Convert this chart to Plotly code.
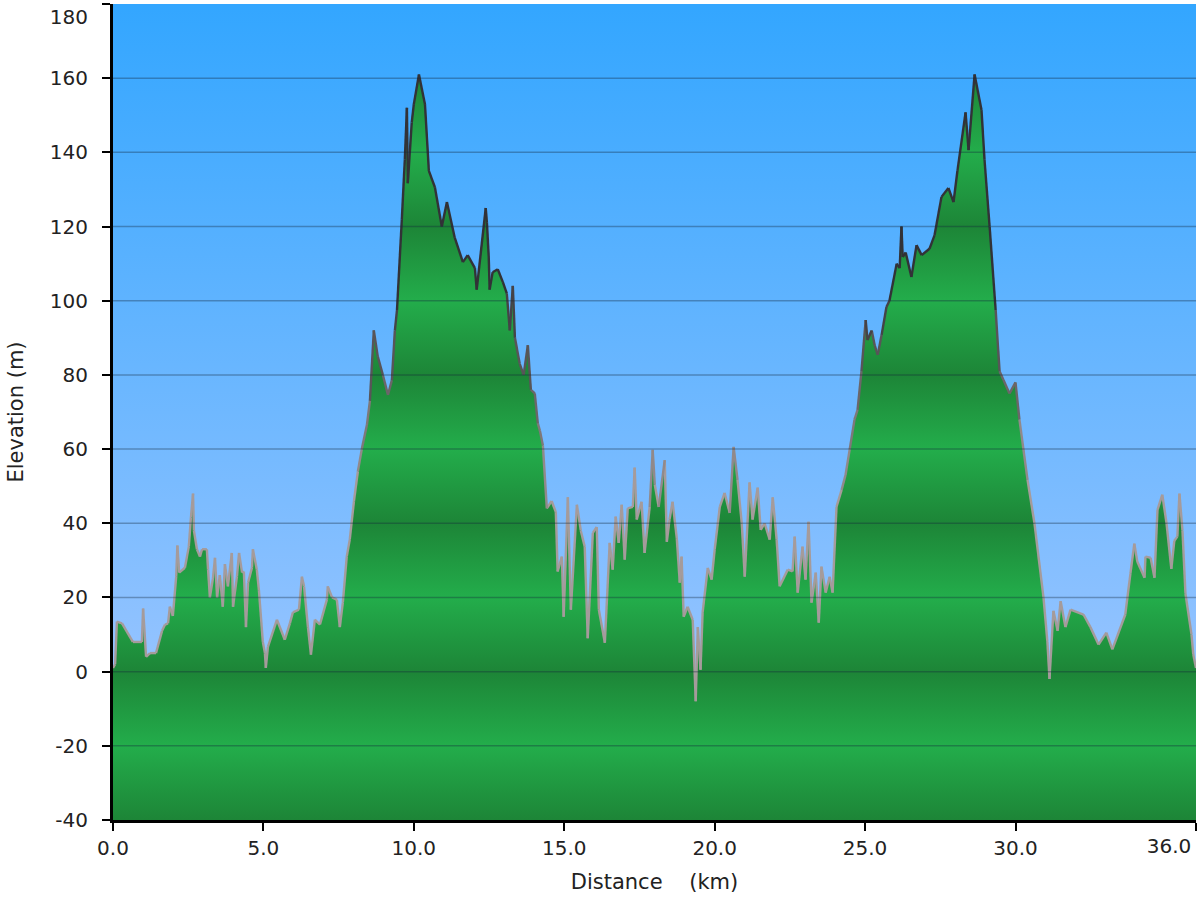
import plotly.graph_objects as go
import numpy as np

# ---- data ----
distance_km = [
    0.00, 0.07, 0.13, 0.30, 0.66, 0.96, 1.00, 1.10, 1.23, 1.43, 1.63, 1.73, 1.83, 1.89, 1.99,
    2.10, 2.14, 2.20, 2.39, 2.52, 2.59, 2.66, 2.69, 2.79, 2.89, 2.96, 3.12, 3.16, 3.22, 3.32,
    3.39, 3.46, 3.55, 3.65, 3.72, 3.82, 3.95, 3.99, 4.12, 4.19, 4.29, 4.35, 4.42, 4.49, 4.62,
    4.65, 4.78, 4.85, 4.98, 5.05, 5.08, 5.15, 5.45, 5.71, 5.88, 5.98, 6.18, 6.28, 6.35, 6.48,
    6.58, 6.71, 6.88, 7.11, 7.14, 7.28, 7.44, 7.54, 7.64, 7.77, 7.87, 8.01, 8.14, 8.27, 8.44,
    8.54, 8.67, 8.80, 8.97, 9.14, 9.27, 9.37, 9.44, 9.60, 9.70, 9.77, 9.80, 9.93, 10.00, 10.17,
    10.37, 10.50, 10.70, 10.93, 11.10, 11.36, 11.63, 11.79, 12.03, 12.09, 12.39, 12.43, 12.49, 12.52, 12.62,
    12.79, 12.96, 13.09, 13.19, 13.29, 13.36, 13.52, 13.65, 13.79, 13.89, 14.02, 14.12, 14.19, 14.29, 14.42,
    14.58, 14.72, 14.78, 14.92, 14.98, 15.12, 15.22, 15.42, 15.55, 15.68, 15.78, 15.95, 16.08, 16.15, 16.35,
    16.51, 16.61, 16.71, 16.81, 16.91, 17.01, 17.11, 17.28, 17.34, 17.41, 17.57, 17.67, 17.84, 17.94, 18.01,
    18.14, 18.34, 18.41, 18.50, 18.60, 18.74, 18.84, 18.90, 18.97, 19.10, 19.27, 19.37, 19.44, 19.53, 19.60,
    19.77, 19.90, 20.00, 20.17, 20.33, 20.50, 20.63, 20.76, 20.90, 21.00, 21.16, 21.26, 21.43, 21.53, 21.66,
    21.83, 21.93, 22.06, 22.16, 22.43, 22.59, 22.66, 22.76, 22.92, 23.02, 23.12, 23.22, 23.36, 23.46, 23.55,
    23.69, 23.82, 23.92, 24.05, 24.22, 24.35, 24.49, 24.65, 24.75, 24.88, 25.02, 25.08, 25.22, 25.32, 25.42,
    25.55, 25.71, 25.81, 26.05, 26.15, 26.21, 26.25, 26.35, 26.54, 26.71, 26.88, 27.14, 27.31, 27.54, 27.77,
    27.94, 28.07, 28.34, 28.44, 28.64, 28.87, 28.97, 29.14, 29.34, 29.47, 29.60, 29.80, 30.00, 30.13, 30.40,
    30.63, 30.93, 31.06, 31.13, 31.26, 31.40, 31.50, 31.66, 31.83, 32.26, 32.49, 32.76, 33.02, 33.22, 33.65,
    33.82, 33.95, 34.05, 34.29, 34.32, 34.49, 34.62, 34.72, 34.88, 35.02, 35.18, 35.28, 35.38, 35.45, 35.55,
    35.65, 35.85, 35.91, 36.00,
]
elevation_m = [
    1, 2, 13.5, 13, 8, 8, 17, 4, 5, 5, 11, 12.7, 13, 17.5, 15,
    25.6, 34, 26.7, 28, 33.7, 41.5, 48, 38, 33, 31, 33, 33, 27.5, 20, 25,
    30.7, 20, 26, 17.5, 29, 23, 32, 17.5, 25.6, 32, 26.7, 27, 12, 24, 28,
    33, 27.5, 22, 8, 5, 1, 6.7, 14, 8.6, 13, 16, 16.7, 25.6, 23, 12,
    4.6, 14, 12.7, 19.4, 23, 20, 19.4, 12, 18.6, 31, 35.6, 46, 54, 60, 66.5,
    73, 92, 85, 80, 74.6, 78.6, 92, 97.5, 121.8, 138, 152, 131.7, 148, 153, 161,
    153, 135, 130.6, 120, 126.6, 117, 110.4, 112.3, 108.8, 103, 125, 121, 111.8, 103, 107.7,
    108.5, 105, 102, 92, 104, 90, 83, 80, 88, 76, 75, 67, 65, 61, 44,
    46, 43, 27, 31, 14.8, 47, 16.7, 45, 38, 33.7, 9, 37.4, 39, 16.7, 7.8,
    34.7, 27.5, 41.8, 34.7, 45, 30.2, 44, 44.4, 55, 41, 45.8, 32, 44.4, 59.8, 50.4,
    44.4, 57, 35, 41, 45.8, 36, 24, 31, 14.8, 17.5, 14, -8, 12, 0.5, 16,
    28, 24.8, 32.9, 44.4, 48.2, 42.8, 60.6, 51.7, 40, 25.6, 51, 41, 49.6, 38.2, 40,
    35.6, 47, 35.6, 23, 27.5, 27, 36.4, 21.3, 33.7, 24.8, 40.4, 18.6, 26.7, 13.2, 28.3,
    21.3, 25.6, 21.3, 44.4, 49, 53, 60, 68, 70.6, 81, 94.8, 89.4, 92, 88, 85.4,
    90.8, 98.3, 100, 110, 108.8, 120, 111.8, 113, 106.4, 115, 112.3, 114, 117.7, 128, 130.4,
    126.6, 135, 150.8, 140.6, 161, 151.4, 138, 120, 97.5, 81, 78.6, 75, 78, 68, 51.7,
    40, 20, 8, -2, 16.4, 11, 19, 12, 16.7, 15.4, 12, 7.3, 10.5, 6, 15.4,
    26.4, 34.5, 29.6, 25.3, 31, 30.7, 25.3, 43.6, 47.7, 40, 27.7, 35.3, 36.4, 48, 38,
    21, 10, 4.6, 1,
]

X_MAX = 36.0
Y_MIN, Y_MAX = -40, 180
x_tick_vals = [0, 5, 10, 15, 20, 25, 30, 36]
x_tick_text = ["0.0", "5.0", "10.0", "15.0", "20.0", "25.0", "30.0", ""]
x_end_tick = [36]
x_end_label = ["36.0"]
y_tick_vals = list(range(Y_MIN, Y_MAX + 1, 20))
y_tick_text = ["-40", "-20", "0", "20", "40", "60", "80", "100", "120", "140", "160", "\u00a0<br>180"]
grid_vals = list(range(Y_MIN + 20, Y_MAX, 20))

GREEN_DARK = "rgb(29,133,55)"
GREEN_LIGHT = "rgb(35,173,75)"
SKY_TOP = "#33a6ff"
SKY_BOTTOM = "#abcaff"
TEXT = "#222222"

x = np.array(distance_km, dtype=float)
y = np.array(elevation_m, dtype=float)

fig = go.Figure()

# sky background gradient
fig.add_trace(go.Scatter(
    x=[0, X_MAX, X_MAX, 0, 0], y=[Y_MIN, Y_MIN, Y_MAX, Y_MAX, Y_MIN],
    mode="none", fill="toself",
    fillgradient=dict(type="vertical", colorscale=[[0, SKY_BOTTOM], [1, SKY_TOP]],
                      start=Y_MIN, stop=Y_MAX),
    hoverinfo="skip", showlegend=False))

# baseline for the terrain fill
fig.add_trace(go.Scatter(x=x, y=np.full_like(x, Y_MIN), mode="lines",
                         line=dict(width=0, color="rgba(0,0,0,0)"),
                         hoverinfo="skip", showlegend=False))

# banded green terrain
stops = []
for lv in range(Y_MIN, Y_MAX + 1, 20):
    frac = (lv - Y_MIN) / (Y_MAX - Y_MIN)
    stops.append([frac, GREEN_DARK if lv % 40 == 0 else GREEN_LIGHT])
fig.add_trace(go.Scatter(
    x=x, y=y, mode="none", fill="tonexty",
    fillgradient=dict(type="vertical", colorscale=stops, start=Y_MIN, stop=Y_MAX),
    hoverinfo="skip", showlegend=False))

# outline, shaded from light grey (low) to dark (high)
low_c = np.array([165, 155, 155])
high_c = np.array([50, 50, 55])
n_buckets = 7
buckets = {b: ([], []) for b in range(n_buckets)}
for i in range(len(x) - 1):
    avg = (y[i] + y[i + 1]) / 2
    t = min(max((avg - 45) / (105 - 45), 0), 1)
    b = int(round(t * (n_buckets - 1)))
    bx, by = buckets[b]
    bx += [x[i], x[i + 1], None]
    by += [y[i], y[i + 1], None]
for b in range(n_buckets):
    t = b / (n_buckets - 1)
    c = low_c + (high_c - low_c) * t
    bx, by = buckets[b]
    if bx:
        fig.add_trace(go.Scatter(x=bx, y=by, mode="lines",
                                 line=dict(color=f"rgb({int(c[0])},{int(c[1])},{int(c[2])})", width=2.4),
                                 hoverinfo="skip", showlegend=False))

# invisible anchor so the overlaid end-label axis is drawn
fig.add_trace(go.Scatter(x=[X_MAX], y=[Y_MIN], xaxis="x2", mode="markers",
                         marker=dict(opacity=0, size=1), hoverinfo="skip", showlegend=False))

shapes = []
for g in grid_vals:
    shapes.append(dict(type="line", xref="paper", x0=0, x1=1, yref="y", y0=g, y1=g,
                       line=dict(color="rgba(20,40,60,0.35)", width=1.5), layer="above"))

tick_font = dict(size=20, color=TEXT, family="DejaVu Sans")

fig.update_layout(
    width=1200, height=900,
    margin=dict(l=113, r=4, t=4, b=80, autoexpand=False),
    paper_bgcolor="white", plot_bgcolor="white",
    showlegend=False,
    shapes=shapes,
    font=dict(family="DejaVu Sans", color=TEXT),
    xaxis=dict(range=[0, X_MAX], tickvals=x_tick_vals, ticktext=x_tick_text,
               showgrid=False, zeroline=False, showline=True, linecolor="black", linewidth=3,
               ticks="outside", ticklen=8, tickwidth=2, tickcolor="black",
               ticklabeloverflow="allow", automargin=False,
               tickfont=tick_font,
               title=dict(text="Distance\u00a0\u00a0\u00a0\u00a0(km)", font=dict(size=21, color=TEXT), standoff=16)),
    xaxis2=dict(overlaying="x", anchor="y", side="bottom", range=[0, X_MAX],
                tickvals=x_end_tick, ticktext=x_end_label,
                showgrid=False, zeroline=False, showline=False,
                ticks="outside", ticklen=8, tickwidth=2, tickcolor="rgba(0,0,0,0)",
                ticklabelshift=-27, ticklabeloverflow="allow", automargin=False,
                tickfont=tick_font),
    yaxis=dict(range=[Y_MIN, Y_MAX], tickvals=y_tick_vals, ticktext=y_tick_text,
               showgrid=False, zeroline=False, showline=True, linecolor="black", linewidth=3,
               ticks="outside", ticklen=8, tickwidth=2, tickcolor="black",
               ticklabeloverflow="allow", automargin=False,
               tickfont=tick_font, ticklabelstandoff=10,
               title=dict(text="Elevation (m)", font=dict(size=21, color=TEXT), standoff=21)),
)

fig.write_html("out.html", config={"displayModeBar": False},
               post_script="document.body.style.margin='0';document.body.style.padding='0';")
